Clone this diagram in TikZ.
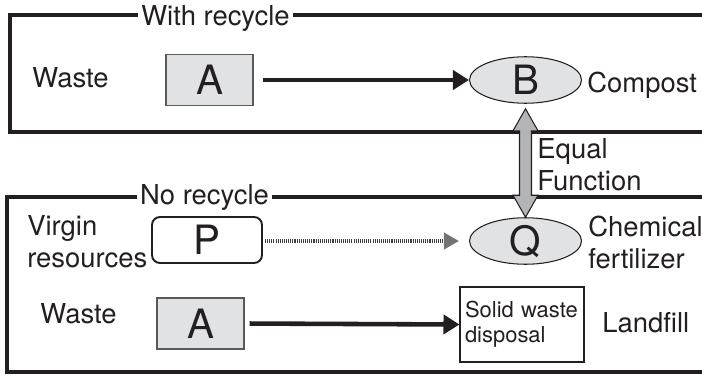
\documentclass[tikz,border=0pt]{standalone}
\usepackage{fontspec}
\setmainfont{TeX Gyre Heros}
\usetikzlibrary{calc}
\usetikzlibrary{arrows.meta}
\usetikzlibrary{shapes.geometric}
\definecolor{ink}{HTML}{231F20}
\definecolor{boxgray}{HTML}{E1E2E4}
\definecolor{arrgray}{HTML}{B3B4B6}

\begin{document}
\begin{tikzpicture}[
        txt/.style={inner sep=0pt, text=ink, font=\fontsize{15.6}{18.2}\selectfont},
        big/.style={text=ink, font=\fontsize{23}{26}\selectfont},
        frame/.style={draw=ink, line width=2pt},
        framelabel/.style={txt, fill=white, inner xsep=2pt, inner ysep=1pt},
        graybox/.style={big, draw=black!65, line width=0.7pt, fill=boxgray, minimum width=1.74cm, minimum height=1.02cm},
        ell/.style={big, ellipse, draw=ink, line width=0.6pt, fill=boxgray, minimum width=2.24cm, minimum height=0.93cm, inner sep=0pt},
        pbox/.style={big, draw=ink, line width=1.1pt, fill=white, rounded corners=0.16cm, minimum width=2.2cm, minimum height=0.92cm},
        flow/.style={draw=ink, line width=2.6pt, -{Triangle[length=0.32cm, width=0.38cm]}},
        virginflow/.style={draw=black!75, line width=2.8pt, dash pattern=on 0.6pt off 0.6pt,
            -{Triangle[length=0.3cm, width=0.32cm, color=black!55]}},
        eqarrow/.style={draw=ink, line width=0.6pt, fill=arrgray, line join=miter}
    ]
        \useasboundingbox (0,0) rectangle (14.04,7.5);

        % with recycle
        \draw[frame] (0.2,7.2) rectangle (14.4,4.86);
        \node[framelabel, anchor=base] (wrlbl) at (4.31,6.98) {With recycle};
        \node[txt, anchor=base] (waste1) at (1.41,5.74) {Waste};
        \node[graybox] (A1) at (4.19,5.9) {A};
        \node[ell] (B) at (10.51,5.9) {B};
        \node[txt, anchor=base west] (compost) at (11.74,5.66) {Compost};
        \draw[flow, shorten <=0.18cm] (A1.east) -- (B.west);

        % no recycle
        \draw[frame] (0.14,3.56) rectangle (14.4,0.06);
        \node[framelabel, anchor=base] (nrlbl) at (4.09,3.42) {No recycle};
        % upper line
        \node[txt, align=left, anchor=base west] (virgin) at (0.54,2.16) {Virgin\\resources};
        \node[pbox] (P) at (4.14,2.7) {P};
        \node[ell] (Q) at (10.51,2.68) {Q};
        \node[txt, align=left, anchor=base west] (chem) at (11.76,2.14) {Chemical\\fertilizer};
        \draw[virginflow, shorten <=0.04cm, shorten >=0.2cm] (P.east |- Q.west) -- (Q.west);
        % lower line
        \node[txt, anchor=base] (waste2) at (1.57,1.04) {Waste};
        \node[graybox] (A2) at (4.01,1.03) {A};
        \node[draw=ink, line width=0.6pt, fill=white, text=ink, minimum width=2.48cm, minimum height=1.5cm,
              inner xsep=0.1cm, text width=2.28cm, align=left, font=\fontsize{12.5}{14.2}\selectfont] (swd) at (10.44,1.01) {Solid waste\\disposal};
        \node[txt, anchor=base west] (landfill) at (12.04,0.86) {Landfill};
        \draw[flow, shorten <=0.1cm] (A2.east) -- (swd.west);

        % equal function
        \coordinate (eqtop) at ($(B.south)+(0,-0.1)$);
        \coordinate (eqbot) at (Q.north);
        \draw[eqarrow] (eqtop) -- ++(0.25,-0.44) -- ++(-0.13,0) -- ($(eqbot)+(0.12,0.44)$) -- ++(0.13,0)
            -- (eqbot) -- ++(-0.25,0.44) -- ++(0.13,0) -- ($(eqtop)+(-0.12,-0.44)$) -- ++(-0.13,0) -- cycle;
        \node[txt, align=left, anchor=base west] (eqlbl) at (10.74,3.7) {Equal\\Function};
    \end{tikzpicture}
\end{document}
